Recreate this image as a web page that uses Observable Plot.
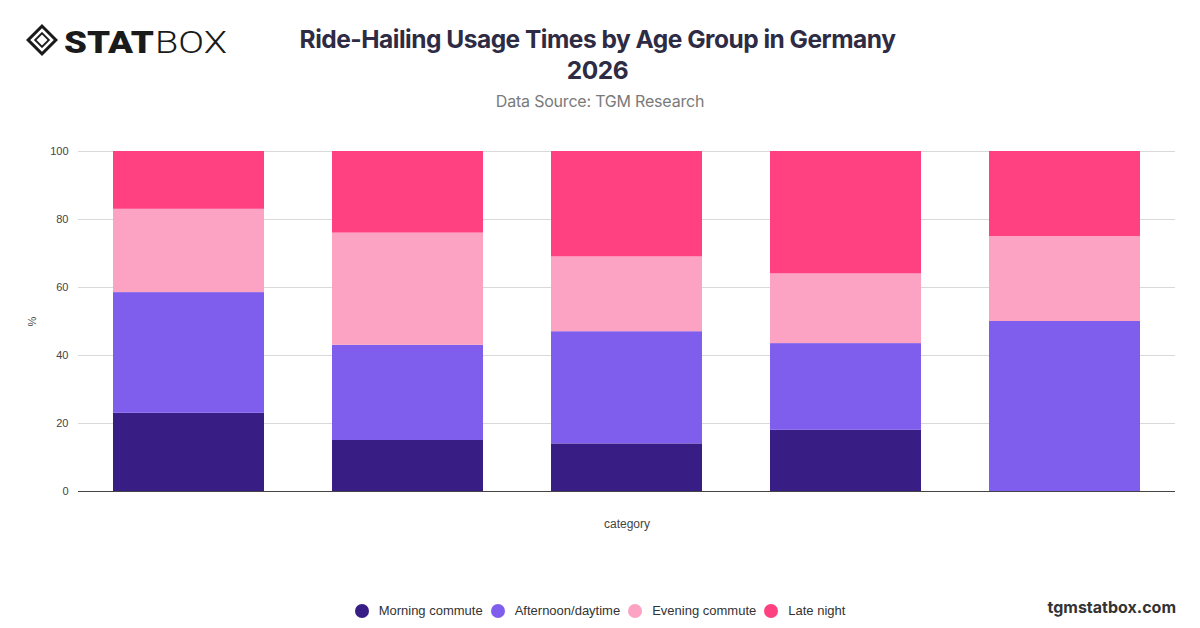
<!DOCTYPE html>
<html>
<head>
<meta charset="utf-8">
<script src="https://cdn.jsdelivr.net/npm/d3@7"></script>
<script src="https://cdn.jsdelivr.net/npm/@observablehq/plot@0.6"></script>
<style>
  html, body { margin: 0; padding: 0; background: #fff; }
  body { width: 1200px; height: 628px; position: relative; overflow: hidden; font-family: "Liberation Sans", Arial, sans-serif; }
  #logo { position: absolute; left: 24px; top: 20px; }
  #title { position: absolute; left: 0; width: 1195px; top: 24px; text-align: center; font-family: Inter, sans-serif; font-weight: 700; font-size: 24.5px; line-height: 31px; color: #2e2b45; letter-spacing: -0.5px; }
  #subtitle { position: absolute; left: 0; width: 1200px; top: 91px; text-align: center; font-family: Inter, sans-serif; font-size: 16px; color: #7a7a7a; letter-spacing: -0.2px; }
  #chart { position: absolute; left: 0; top: 130px; }
  #legend { position: absolute; top: 603px; left: 0; width: 1200px; display: flex; justify-content: center; font-size: 13px; color: #333; }
  .item { display: flex; align-items: center; margin: 0 4px; }
  .dot { width: 14px; height: 14px; border-radius: 50%; margin-right: 10px; }
  #site { position: absolute; right: 24px; top: 597px; font-family: Inter, sans-serif; font-weight: 700; font-size: 16px; color: #333; }
</style>
</head>
<body>
<svg id="logo" width="210" height="40" viewBox="0 0 210 40">
  <polygon points="18,4 34,20 18,36 2,20" fill="#1a1a1a"/>
  <polygon points="18,10 28,20 18,30 8,20" fill="none" stroke="#fff" stroke-width="2.5"/>
  <polygon points="18,14.5 23.5,20 18,25.5 12.5,20" fill="#fff"/>
  <text x="40" y="33" font-family="Roboto, 'DejaVu Sans'" font-weight="900" font-size="31" fill="#1a1a1a" textLength="90" lengthAdjust="spacingAndGlyphs">STAT</text>
  <text x="131" y="33" font-family="Roboto, 'DejaVu Sans'" font-weight="300" font-size="31" fill="#1a1a1a" textLength="72" lengthAdjust="spacingAndGlyphs">BOX</text>
</svg>
<div id="title">Ride-Hailing Usage Times by Age Group in Germany<br>2026</div>
<div id="subtitle">Data Source: TGM Research</div>
<div id="chart"></div>
<div id="legend"></div>
<div id="site">tgmstatbox.com</div>
<script>
const categories = ["18–24", "25–34", "35–44", "45–54", "55+"];
const series = ["Morning commute", "Afternoon/daytime", "Evening commute", "Late night"];
const colors = ["#381d84", "#7f5eed", "#fca3c3", "#ff4081"];
const morning   = [23, 15, 14, 18, 0];
const afternoon = [35.5, 28, 33, 25.5, 50];
const evening   = [24.5, 33, 22, 20.5, 25];
const lateNight = [17, 24, 31, 36, 25];
const yTicks = [0, 20, 40, 60, 80, 100];

const values = [morning, afternoon, evening, lateNight];
const data = [];
categories.forEach((c, i) => {
  series.forEach((s, j) => data.push({category: c, series: s, value: values[j][i]}));
});

const chart = Plot.plot({
  width: 1200,
  height: 420,
  marginTop: 21,
  marginLeft: 78,
  marginRight: 25,
  marginBottom: 59,
  style: {fontFamily: "'Liberation Sans', Arial, sans-serif", fontSize: "11px", color: "#444", background: "transparent"},
  x: {domain: categories, paddingInner: 0.31, paddingOuter: 0.155, axis: null},
  y: {domain: [0, 100], axis: null},
  color: {domain: series, range: colors},
  marks: [
    Plot.gridY(yTicks, {stroke: "#d9d9d9", strokeOpacity: 1}),
    Plot.axisY(yTicks, {tickSize: 0, tickPadding: 10, label: "%", labelAnchor: "center", labelArrow: "none", labelOffset: 50}),
    Plot.axisX({tickSize: 0, tickFormat: () => "", label: "category", labelAnchor: "center", labelArrow: "none", labelOffset: 36, fontSize: 12}),
    Plot.barY(data, {x: "category", y: "value", fill: "series", order: series}),
    Plot.ruleY([0], {stroke: "#444", strokeWidth: 1.2})
  ]
});
document.getElementById("chart").appendChild(chart);

const legend = document.getElementById("legend");
series.forEach((s, j) => {
  const item = document.createElement("div");
  item.className = "item";
  const dot = document.createElement("span");
  dot.className = "dot";
  dot.style.background = colors[j];
  const label = document.createElement("span");
  label.textContent = s;
  item.appendChild(dot);
  item.appendChild(label);
  legend.appendChild(item);
});
</script>
</body>
</html>
